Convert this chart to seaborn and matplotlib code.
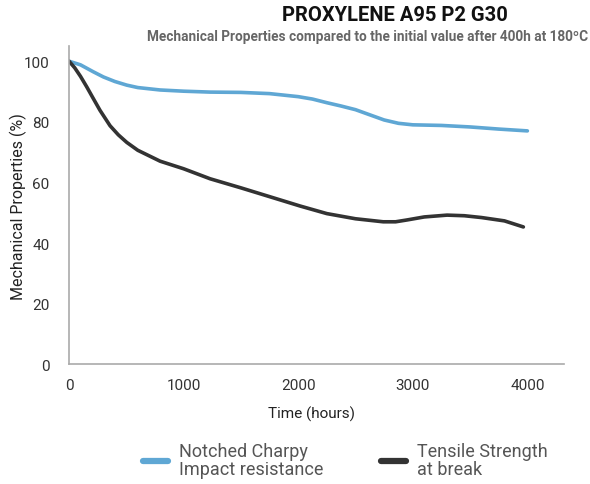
import numpy as np
import pandas as pd
import matplotlib
matplotlib.use("Agg")
import matplotlib.pyplot as plt
import seaborn as sns

# values
charpy_hours = [0, 100, 212, 300, 400, 504, 600, 795, 1000, 1231, 1500, 1750,
                2000, 2125, 2250, 2375, 2500, 2625, 2750, 2875, 3000, 3250,
                3500, 3750, 4000]
charpy_values = [100, 98.8, 96.5, 94.8, 93.3, 92.1, 91.3, 90.5, 90.1, 89.8,
                 89.7, 89.3, 88.3, 87.5, 86.3, 85.2, 84, 82.3, 80.6, 79.5,
                 79.0, 78.8, 78.3, 77.6, 77]
tensile_hours = [0, 50, 100, 155, 210, 270, 358, 430, 504, 600, 795, 1000,
                 1231, 1500, 1750, 2017, 2250, 2500, 2742, 2850, 2949, 3100,
                 3299, 3450, 3600, 3800, 3965]
tensile_values = [100, 97.8, 95, 91.5, 87.8, 83.8, 78.7, 75.7, 73.2, 70.6,
                  67, 64.5, 61.2, 58.2, 55.3, 52.2, 49.7, 48.0, 47.0, 47.0,
                  47.6, 48.6, 49.2, 49.0, 48.4, 47.3, 45.3]
series_names = ["Notched Charpy\nImpact resistance", "Tensile Strength\nat break"]
series_colors = ["#5fa7d4", "#333333"]

df = pd.concat([
    pd.DataFrame({"hours": charpy_hours, "value": charpy_values, "series": series_names[0]}),
    pd.DataFrame({"hours": tensile_hours, "value": tensile_values, "series": series_names[1]}),
])

sns.set_style("white")
plt.rcParams["font.family"] = ["Roboto", "DejaVu Sans"]

fig = plt.figure(figsize=(5.9, 4.85), dpi=100)
ax = fig.add_axes([0.117, 0.247, 0.839, 0.656])

sns.lineplot(data=df, x="hours", y="value", hue="series", palette=series_colors,
             linewidth=2.6, ax=ax, sort=True)

ax.set_xlim(0, 4320)
ax.set_ylim(0, 105)
ax.set_xticks([0, 1000, 2000, 3000, 4000])
ax.set_yticks([0, 20, 40, 60, 80, 100])
ax.tick_params(length=0, labelsize=11, colors="#333333")
ax.tick_params(axis="x", pad=10)
ax.tick_params(axis="y", pad=14)
for s in ["top", "right"]:
    ax.spines[s].set_visible(False)
for s in ["left", "bottom"]:
    ax.spines[s].set_color("#aaaaaa")
    ax.spines[s].set_linewidth(1.2)

ax.set_xlabel("Time (hours)", fontsize=11, color="#222222")
ax.set_ylabel("Mechanical Properties (%)", fontsize=11.5, color="#222222")
ax.xaxis.set_label_coords(0.49, -0.13)
ax.yaxis.set_label_coords(-0.085, 0.5)

fig.text(0.67, 0.968, "PROXYLENE A95 P2 G30", ha="center", va="center",
         fontsize=14.5, fontweight="bold", color="#111111")
fig.text(0.997, 0.924, "Mechanical Properties compared to the initial value after 400h at 180ºC",
         ha="right", va="center", fontsize=9.8, fontweight="bold", color="#666666")

sns.move_legend(ax, "lower center", bbox_to_anchor=(0.585, -0.022), bbox_transform=fig.transFigure,
                ncol=2, frameon=False, title=None, fontsize=13, handlelength=1.4,
                columnspacing=3.2, labelspacing=0.2, handletextpad=0.6)
leg = ax.get_legend()
for t in leg.get_texts():
    t.set_color("#555555")
    t.set_linespacing(1.0)
for h in leg.legend_handles:
    h.set_linewidth(4.5)

plt.savefig("out.png", dpi=100)
